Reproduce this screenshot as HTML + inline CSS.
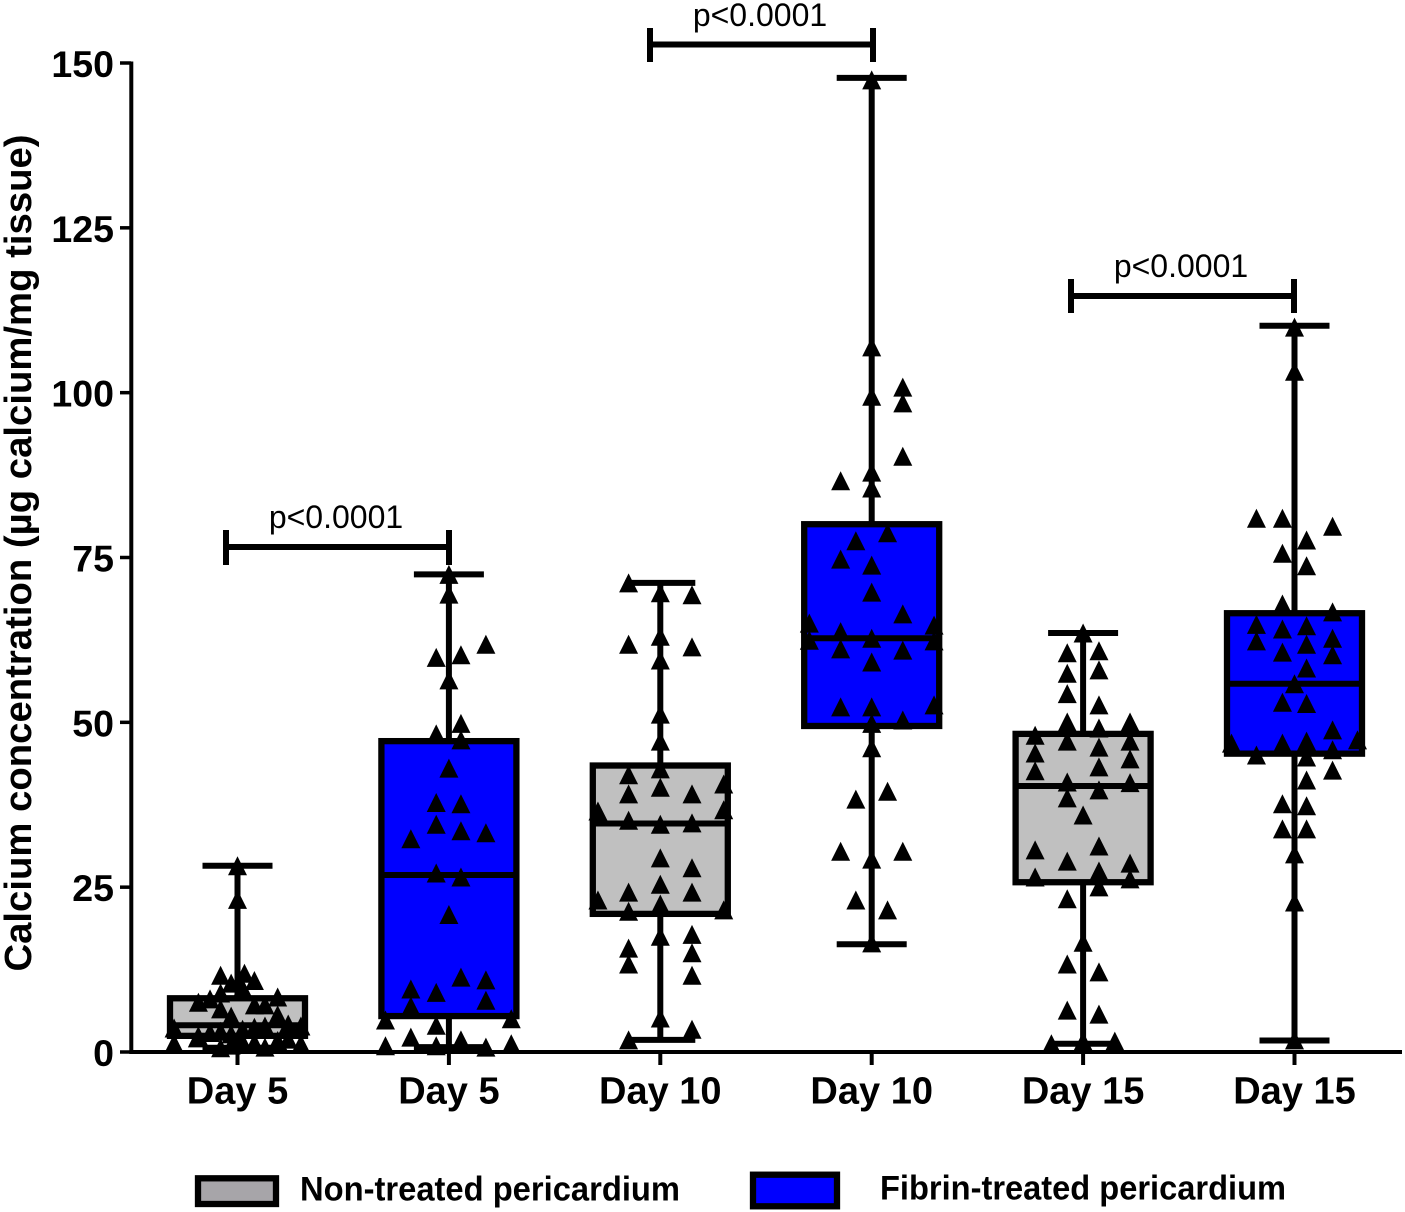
<!DOCTYPE html>
<html lang="en">
<head>
<meta charset="utf-8">
<title>Calcium concentration box plot</title>
<style>
html,body{margin:0;padding:0;background:#fff}
svg{display:block}
text{font-family:"Liberation Sans",sans-serif;fill:#000}
.b{font-weight:bold}
</style>
</head>
<body>
<svg id="chart" xmlns="http://www.w3.org/2000/svg" width="1405" height="1212" viewBox="0 0 1405 1212">
  <g id="plot"></g>
  <text class="b" transform="translate(31 553) rotate(-90)" text-anchor="middle" font-size="38.300">Calcium concentration (µg calcium/mg tissue)</text>

  <g stroke="#000" stroke-width="6" fill="none">
    <path d="M226 530V565M226 547H449M449 530V565"/>
  </g>
  <text x="336" y="528" text-anchor="middle" font-size="32">p&lt;0.0001</text>

  <g stroke="#000" stroke-width="6" fill="none">
    <path d="M650 28V62M650 44.500H873M873 28V62"/>
  </g>
  <text x="760" y="26" text-anchor="middle" font-size="32">p&lt;0.0001</text>

  <g stroke="#000" stroke-width="6" fill="none">
    <path d="M1071 279V313M1071 296H1294M1294 279V313"/>
  </g>
  <text x="1181" y="277" text-anchor="middle" font-size="32">p&lt;0.0001</text>

  <g>
    <rect x="198" y="1178.300" width="78" height="25.700" fill="#a7a5a9" stroke="#000" stroke-width="6.300"/>
    <text class="b" x="300" y="1200.500" font-size="34.500" textLength="380" lengthAdjust="spacingAndGlyphs">Non-treated pericardium</text>
    <rect x="753" y="1174.700" width="84" height="31.600" fill="#0000ff" stroke="#000" stroke-width="6.300"/>
    <text class="b" x="880" y="1199.300" font-size="34.500" textLength="406" lengthAdjust="spacingAndGlyphs">Fibrin-treated pericardium</text>
  </g>
</svg>
<script>
var categories = ["Day 5", "Day 5", "Day 10", "Day 10", "Day 15", "Day 15"];
var yTicks = [0, 25, 50, 75, 100, 125, 150];
var boxFills = ["#c0c0c0", "#0000ff", "#c0c0c0", "#0000ff", "#c0c0c0", "#0000ff"];

var whiskerLow = [0.8, 0.9, 2, 16.5, 1.4, 1.9];
var q1 = [2.6, 5.6, 21.1, 49.6, 25.9, 45.4];
var medians = [4.2, 27, 34.8, 62.9, 40.5, 56];
var q3 = [8.3, 47.3, 43.6, 80.2, 48.4, 66.7];
var whiskerHigh = [28.4, 72.6, 71.3, 147.9, 63.7, 110.3];

var valuesDay5Gray = [28.4,23.3,11.8,12.1,11,10.6,9.9,9.1,8.5,7.7,8.2,6.7,7.3,7.3,5.6,5.8,3.8,4.4,4.1,3.9,4.1,2.3,3.3,2.9,1.5,1.4,0.8,0.9,1.2,1.6,1.9,2.1,1.7,3.1,2.6,3.6];
var jitterDay5Gray = [0,0,-0.08,0.033,0.08,-0.03,0.024,-0.08,0.19,-0.185,-0.13,-0.08,0.08,0.13,-0.03,0.19,-0.3,0.24,0.3,0.08,0.13,-0.19,-0.08,-0.03,-0.3,0.3,-0.08,0.13,-0.03,0.08,0.19,0.24,0.024,-0.13,-0.185,0.024];

var valuesDay5Blue = [72.6,69.6,62,60,60.4,56.6,50,48.4,47.5,43.2,38,37.8,34.7,33.7,33.4,32.5,27.3,26.7,21,11.5,11.1,9.7,9.2,8,7.1,5,5.2,4.2,2.4,2,1.1,1.1,0.9,1.4];
var jitterDay5Blue = [0,0,0.175,-0.06,0.057,0,0.057,-0.06,0.057,0,-0.06,0.057,-0.06,0.057,0.175,-0.18,-0.06,0.057,0,0.057,0.175,-0.18,-0.06,0.175,-0.18,-0.3,0.295,-0.06,-0.18,0.057,-0.3,-0.06,0.175,0.295];

var valuesDay10Gray = [71.3,69.8,69.5,62,63.2,61.6,59.6,51.4,47.3,42.2,43.1,40.3,39.3,39.3,40.8,36.7,36.9,35.3,34.7,34.9,29.6,28.1,24.4,25.6,24.4,23.2,21.5,22.6,21.7,17.7,18,15.9,15.2,13.5,11.8,5.3,3.6,2];
var jitterDay10Gray = [-0.15,0,0.15,-0.15,0,0.15,0,0,0,-0.15,0,0,-0.15,0.15,0.3,-0.295,0.3,-0.15,0,0.15,0,0.15,-0.15,0,0.15,-0.295,-0.15,0,0.3,0,0.15,-0.15,0.15,-0.15,0.15,0,0.15,-0.15];

var valuesDay10Blue = [147.6,107.1,99.6,101,98.6,90.5,88.1,85.7,86.8,78.9,77.7,74.9,74,69.9,66.6,65.2,64.9,63.9,62.9,62.6,62.5,61.3,61.1,59.3,52.5,52.5,52.8,50.5,50,46.3,38.5,39.7,30.6,30.6,29.4,23.2,21.7,16.7];
var jitterDay10Blue = [0,0,0,0.147,0.147,0.147,0,0,-0.147,0.075,-0.075,-0.147,0,0,0.147,-0.295,0.295,-0.147,0,-0.295,0.295,-0.147,0.147,0,-0.147,0,0.295,0.147,0,0,-0.075,0.075,-0.147,0.147,0,-0.075,0.075,0];

var valuesDay15Gray = [63.7,60.7,61,57.6,58.1,54.5,52.8,50.2,50.2,49.3,48.2,47.3,47.3,46.4,45.5,44.6,43.4,42.8,41.1,41,39.9,38.7,36.1,30.8,31.4,29.1,28.8,26.7,27.6,26.4,25.2,23.4,16.8,13.5,12.3,6.5,5.9,1.4,1.8,1.8];
var jitterDay15Gray = [0,-0.075,0.075,-0.075,0.075,-0.075,0.075,-0.075,0.222,0.075,-0.227,0.222,-0.075,0.075,-0.227,0.222,0.075,-0.227,-0.075,0.222,0.075,-0.075,0,-0.227,0.075,-0.075,0.222,-0.227,0.075,0.222,0.075,-0.075,0,-0.075,0.075,-0.075,0.075,-0.15,0,0.15];

var valuesDay15Blue = [110.1,103.4,81.1,81.1,79.9,77.8,75.8,73.9,68.1,66.9,65,64.3,64.8,62.9,62.5,62,60.8,60.4,58.4,56,53.2,53,49,47,47.3,47,47.5,46,45.2,44.9,42.9,41.4,37.8,37.5,34,34,30.2,22.9,2];
var jitterDay15Blue = [0,0,-0.18,-0.057,0.18,0.057,-0.057,0.057,-0.057,0.18,-0.18,-0.057,0.057,0.18,-0.18,0.057,-0.057,0.18,0.057,0,-0.057,0.057,0.18,-0.057,0.057,-0.298,0.298,0.18,-0.18,0.057,0.18,0.057,-0.057,0.057,-0.057,0.057,0,0,0];

var seriesValues = [valuesDay5Gray, valuesDay5Blue, valuesDay10Gray, valuesDay10Blue, valuesDay15Gray, valuesDay15Blue];
var seriesJitter = [jitterDay5Gray, jitterDay5Blue, jitterDay10Gray, jitterDay10Blue, jitterDay15Gray, jitterDay15Blue];

var SVGNS = "http://www.w3.org/2000/svg";
var plot = document.getElementById("plot");

function yScale(v) { return 1052 - v * (989 / 150); }
function yMark(v) { return yScale(v) + 1; }
function xScale(c) { return 237.5 + c * 211.4; }

function line(x1, y1, x2, y2, w) {
  var el = document.createElementNS(SVGNS, "line");
  el.setAttribute("x1", x1);
  el.setAttribute("y1", y1);
  el.setAttribute("x2", x2);
  el.setAttribute("y2", y2);
  el.setAttribute("stroke", "#000");
  el.setAttribute("stroke-width", w);
  return el;
}

function label(x, y, txt, anchor, size) {
  var el = document.createElementNS(SVGNS, "text");
  el.setAttribute("x", x);
  el.setAttribute("y", y);
  el.setAttribute("text-anchor", anchor);
  el.setAttribute("font-size", size);
  el.setAttribute("class", "b");
  el.textContent = txt;
  return el;
}

categories.forEach(function (cat, i) {
  var cx = xScale(i);
  var halfBox = 67.5;
  var halfCap = 35;

  var whisker = line(cx, yMark(whiskerHigh[i]), cx, yMark(whiskerLow[i]), 6);
  
  
  plot.appendChild(whisker);

  var capHigh = line(cx - halfCap, yMark(whiskerHigh[i]), cx + halfCap, yMark(whiskerHigh[i]), 6);
  
  
  plot.appendChild(capHigh);

  var capLow = line(cx - halfCap, yMark(whiskerLow[i]), cx + halfCap, yMark(whiskerLow[i]), 6);
  
  
  plot.appendChild(capLow);

  var box = document.createElementNS(SVGNS, "rect");
  box.setAttribute("x", cx - halfBox);
  box.setAttribute("y", yMark(q3[i]));
  box.setAttribute("width", halfBox * 2);
  box.setAttribute("height", yMark(q1[i]) - yMark(q3[i]));
  box.setAttribute("fill", boxFills[i]);
  box.setAttribute("stroke", "#000");
  box.setAttribute("stroke-width", 6.3);
  
  
  plot.appendChild(box);

  var med = line(cx - halfBox, yMark(medians[i]), cx + halfBox, yMark(medians[i]), 6);
  
  
  plot.appendChild(med);

  seriesValues[i].forEach(function (v, k) {
    var px = xScale(i + seriesJitter[i][k]);
    var py = yMark(v);
    var tri = document.createElementNS(SVGNS, "polygon");
    tri.setAttribute("points", px + "," + (py - 9.5) + " " + (px + 9.5) + "," + (py + 9.5) + " " + (px - 9.5) + "," + (py + 9.5));
    tri.setAttribute("fill", "#000");
    
    
    plot.appendChild(tri);
  });
});

var yAxis = line(131.3, yScale(150) - 1.5, 131.3, yScale(0) + 2, 4);


plot.appendChild(yAxis);

var xAxis = line(130, yScale(0), 1402, yScale(0), 4);


plot.appendChild(xAxis);

yTicks.forEach(function (t) {
  var tick = line(120, yScale(t), 131, yScale(t), 3.5);
  
  
  plot.appendChild(tick);

  var tl = label(114, yScale(t) + 14, String(t), "end", 37.5);
  
  
  plot.appendChild(tl);
});

categories.forEach(function (cat, i) {
  var tick = line(xScale(i), yScale(0), xScale(i), 1065, 4);
  
  
  plot.appendChild(tick);

  var tl = label(xScale(i), 1103.5, cat, "middle", 38);
  
  
  plot.appendChild(tl);
});
</script>
</body>
</html>
